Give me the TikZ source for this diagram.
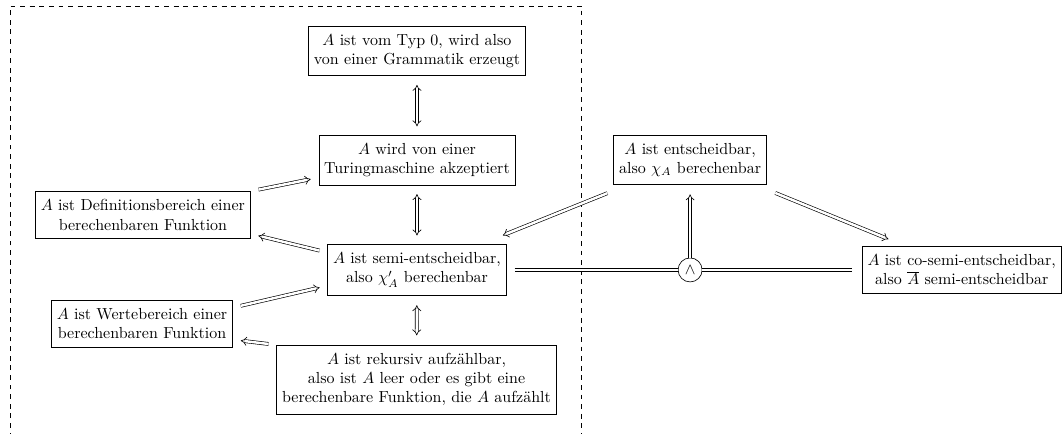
\documentclass[tikz,border=0pt]{standalone}
\usepackage{fontspec}
\usetikzlibrary{arrows.meta}
\begin{document}
\begin{tikzpicture}[
  box/.style={draw, align=center, inner ysep=5pt},
  impl/.style={double, double equal sign distance, -Implies, shorten <=5pt, shorten >=5pt},
  equiv/.style={double, double equal sign distance, Implies-Implies, shorten <=5.5pt, shorten >=5.5pt},
  conn/.style={double, double equal sign distance}
]
  \useasboundingbox (0,0) rectangle (23.33,9.53);

  % Frame
  \draw[dashed] (0.22,-0.5) -- (0.22,9.40) -- (12.78,9.40) -- (12.78,-0.5);

  % Nodes
  \node[box] (typ0) at (9.16,8.41) {$A$ ist vom Typ 0, wird also\\von einer Grammatik erzeugt};
  \node[box] (tm) at (9.16,6.01) {$A$ wird von einer\\Turingmaschine akzeptiert};
  \node[box] (semi) at (9.16,3.60) {$A$ ist semi-entscheidbar,\\also $\chi'_A$ berechenbar};
  \node[box] (rek) at (9.15,1.19) {$A$ ist rekursiv aufzählbar,\\also ist $A$ leer oder es gibt eine\\berechenbare Funktion, die $A$ aufzählt};
  \node[box] (def) at (3.14,4.81) {$A$ ist Definitionsbereich einer\\berechenbaren Funktion};
  \node[box] (wert) at (3.12,2.42) {$A$ ist Wertebereich einer\\berechenbaren Funktion};
  \node[box] (ent) at (15.16,6.02) {$A$ ist entscheidbar,\\also $\chi_A$ berechenbar};
  \node[box, anchor=east] (cosemi) at (23.32,3.60) {$A$ ist co-semi-entscheidbar,\\also $\overline{A}$ semi-entscheidbar};
  \node[draw, circle, inner sep=0pt, minimum size=15pt] (and) at (15.16,3.60) {$\wedge$};

  % Equivalences
  \draw[equiv] (typ0) -- (tm);
  \draw[equiv] (tm) -- (semi);
  \draw[equiv, shorten <=6pt, shorten >=6pt] (semi) -- (rek);

  % Implications
  \draw[impl] (def.north east) -- (tm.190);
  \draw[impl] (semi.169) -- (def.-10);
  \draw[impl] (wert.10) -- (semi.190);
  \draw[impl] (rek.north west) -- (wert.-10);
  \draw[impl, shorten <=14pt, shorten >=15pt] (ent.202) -- (semi.22);
  \draw[impl, shorten <=13.5pt, shorten >=12pt] (ent.-21) -- (cosemi.157);

  % Conjunction
  \draw[conn, shorten <=5pt] (semi) -- (and);
  \draw[conn, shorten >=6pt] (and) -- (cosemi);
  \draw[impl, shorten <=0pt, shorten >=6pt] (and) -- (ent);
\end{tikzpicture}
\end{document}
